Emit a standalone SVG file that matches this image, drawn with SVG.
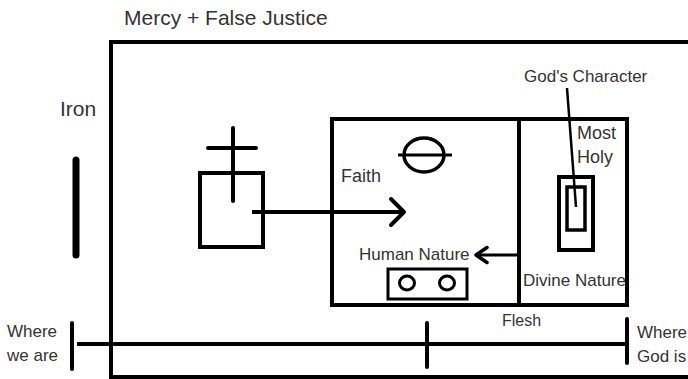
<svg xmlns="http://www.w3.org/2000/svg" width="688" height="379" viewBox="0 0 688 379">
  <style>
    .t { font-family: "Liberation Sans", Arial, sans-serif; fill: #333; }
    .ln { fill: none; stroke: #000; stroke-width: 4; }
    .rl { fill: none; stroke: #000; stroke-width: 4; stroke-linecap: round; }
  </style>
  <defs>
    <marker id="chevBig" markerUnits="userSpaceOnUse" viewBox="-18 -18 22 36" markerWidth="22" markerHeight="36" refX="0" refY="0" orient="auto">
      <path d="M-13,-13 L0,0 L-13,13" fill="none" stroke="#000" stroke-width="4" stroke-linecap="round" stroke-linejoin="round"/>
    </marker>
    <marker id="chevSmall" markerUnits="userSpaceOnUse" viewBox="-14 -12 18 24" markerWidth="18" markerHeight="24" refX="0" refY="0" orient="auto">
      <path d="M-11,-7.5 L0,0 L-11,7.5" fill="none" stroke="#000" stroke-width="3.5" stroke-linecap="round" stroke-linejoin="round"/>
    </marker>
  </defs>
  <rect width="688" height="379" fill="#fff"/>

  <g id="title">
    <text class="t" x="124" y="25" font-size="21">Mercy + False Justice</text>
  </g>

  <g id="court">
    <rect class="ln" x="111" y="42" width="640" height="335"/>
  </g>

  <g id="iron">
    <text class="t" x="60" y="116" font-size="21">Iron</text>
    <line x1="76" y1="160" x2="76" y2="255" stroke="#000" stroke-width="7" stroke-linecap="round"/>
  </g>

  <g id="cross-altar">
    <rect class="ln" x="200" y="173" width="63" height="74"/>
    <line class="rl" x1="233" y1="128" x2="233" y2="201"/>
    <line class="rl" x1="208" y1="148" x2="256" y2="148"/>
  </g>

  <g id="holy-place">
    <rect class="ln" x="332" y="119" width="187" height="186"/>
    <text class="t" x="341" y="182" font-size="18">Faith</text>
  </g>

  <g id="lampstand">
    <ellipse cx="424" cy="155" rx="20" ry="17" fill="none" stroke="#000" stroke-width="3.5"/>
    <line x1="398" y1="155" x2="452" y2="155" stroke="#000" stroke-width="3"/>
  </g>

  <g id="human-nature">
    <text class="t" x="359" y="260" font-size="17">Human Nature</text>
    <rect x="388" y="269" width="79" height="30" fill="none" stroke="#000" stroke-width="3"/>
    <ellipse cx="407" cy="283" rx="7.5" ry="7" fill="none" stroke="#000" stroke-width="3"/>
    <ellipse cx="447" cy="283" rx="7.5" ry="7" fill="none" stroke="#000" stroke-width="3"/>
  </g>

  <g id="most-holy">
    <text class="t" x="577" y="139" font-size="18">Most</text>
    <text class="t" x="577" y="163" font-size="18">Holy</text>
    <text class="t" x="523" y="286" font-size="17">Divine Nature</text>
    <rect class="ln" x="519" y="119" width="108" height="186"/>
  </g>

  <g id="ark">
    <rect class="ln" x="559" y="177" width="34" height="73"/>
    <rect x="567" y="187" width="18" height="43" fill="none" stroke="#000" stroke-width="3.5"/>
  </g>

  <g id="gods-character">
    <text class="t" x="524" y="82" font-size="17">God's Character</text>
  </g>

  <g id="timeline">
    <text class="t" x="7" y="337" font-size="17">Where</text>
    <text class="t" x="7" y="361" font-size="17">we are</text>
    <text class="t" x="502" y="326" font-size="16">Flesh</text>
    <text class="t" x="637" y="338" font-size="17">Where</text>
    <text class="t" x="637" y="362" font-size="17">God is</text>
    <line class="ln" x1="77" y1="344" x2="627" y2="344"/>
    <line class="rl" x1="72" y1="323" x2="72" y2="369"/>
    <line class="rl" x1="427" y1="323" x2="427" y2="367"/>
    <line class="rl" x1="627" y1="319" x2="627" y2="363"/>
  </g>

  <g id="connectors">
    <line x1="252" y1="212" x2="404" y2="212" stroke="#000" stroke-width="4" marker-end="url(#chevBig)"/>
    <line x1="519" y1="255" x2="476" y2="255" stroke="#000" stroke-width="3" marker-end="url(#chevSmall)"/>
    <line x1="567" y1="88" x2="576" y2="207" stroke="#000" stroke-width="2.5"/>
  </g>
</svg>
